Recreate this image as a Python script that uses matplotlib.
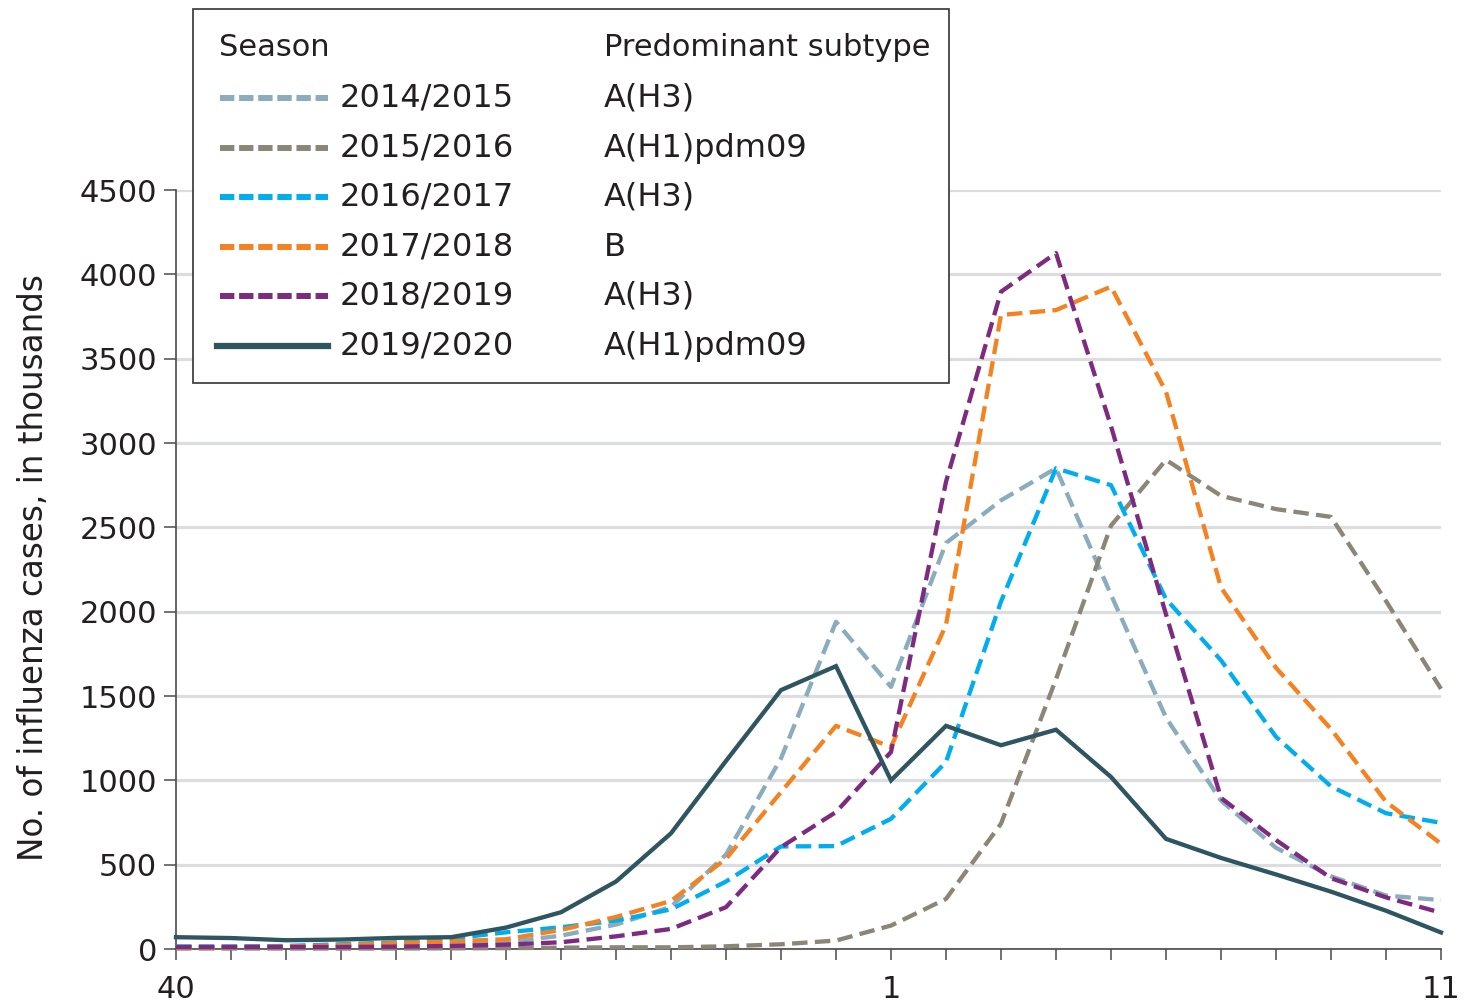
import matplotlib
matplotlib.use("Agg")
import matplotlib.pyplot as plt
from matplotlib.lines import Line2D
from matplotlib.patches import Rectangle

# ---- data (thousands of influenza cases per week, week 40 -> week 11) ----
weeks = list(range(40, 53)) + list(range(1, 12))
tick_labels_shown = {40: "40", 1: "1", 11: "11"}

seasons = ["2014/2015", "2015/2016", "2016/2017", "2017/2018", "2018/2019", "2019/2020"]
subtypes = ["A(H3)", "A(H1)pdm09", "A(H3)", "B", "A(H3)", "A(H1)pdm09"]

s2014 = [8, 8, 10, 12, 15, 28, 40, 79, 145, 250, 560, 1130, 1940, 1554, 2407, 2660, 2850, 2100, 1372, 880, 600, 431, 317, 290]
s2015 = [3, 3, 3, 3, 3, 4, 5, 8, 10, 10, 16, 28, 50, 139, 297, 743, 1600, 2510, 2900, 2687, 2608, 2562, 2063, 1542]
s2016 = [15, 15, 18, 28, 40, 62, 99, 129, 168, 235, 400, 608, 610, 772, 1109, 2060, 2850, 2750, 2075, 1712, 1258, 964, 805, 748]
s2017 = [10, 12, 15, 22, 35, 45, 58, 113, 190, 285, 535, 930, 1323, 1198, 1921, 3759, 3788, 3927, 3304, 2143, 1667, 1304, 873, 624]
s2018 = [12, 12, 12, 12, 14, 18, 26, 40, 75, 119, 248, 604, 812, 1168, 2770, 3897, 4126, 3100, 1984, 896, 646, 420, 306, 215]
s2019 = [70, 65, 52, 56, 66, 70, 127, 218, 400, 686, 1115, 1535, 1677, 1000, 1323, 1208, 1300, 1020, 653, 540, 442, 340, 227, 98]

series = [s2014, s2015, s2016, s2017, s2018, s2019]
colors = ["#8aacbd", "#8c8678", "#00aeef", "#f58220", "#7d2a80", "#2e5560"]
dashed = [True, True, True, True, True, False]

# ---- figure ----
W, H = 1465, 1005
fig = plt.figure(figsize=(W / 100, H / 100), dpi=100)
TXT = "#231f20"

def fx(px):
    return px / W

def fy(py):
    return 1 - py / H

ax = fig.add_axes([fx(176), fy(949), (1441 - 176) / W, (949 - 190) / H])
x = list(range(len(weeks)))

for vals, col, d in zip(series, colors, dashed):
    if d:
        ax.plot(x, vals, color=col, lw=3.1, linestyle=(0, (3.6, 1.7)),
                dash_capstyle="butt", clip_on=False, zorder=3)
    else:
        ax.plot(x, vals, color=col, lw=3.1, solid_joinstyle="miter",
                clip_on=False, zorder=4)

ax.set_xlim(0, len(weeks) - 1)
ax.set_ylim(0, 4500)
ax.set_yticks(range(0, 4501, 500))
ax.set_yticklabels([str(v) for v in range(0, 4501, 500)], fontsize=22, color=TXT)
ax.set_xticks(x)
ax.set_xticklabels([tick_labels_shown.get(w, "") for w in weeks], fontsize=22, color=TXT)

ax.grid(axis="y", color="#dcdddf", lw=2.3)
ax.set_axisbelow(True)
for s in ["top", "right"]:
    ax.spines[s].set_visible(False)
for s in ["left", "bottom"]:
    ax.spines[s].set_color("#4a4a4a")
    ax.spines[s].set_linewidth(1.2)
ax.tick_params(axis="y", direction="out", length=8.5, width=1.1, color="#4a4a4a", pad=5)
ax.tick_params(axis="x", direction="out", length=8, width=1.1, color="#4a4a4a", pad=11)
ax.set_ylabel("No. of influenza cases, in thousands", fontsize=23.5, color=TXT)
ax.yaxis.set_label_coords((50 - 176) / 1265, (949 - 568) / 759)

# ---- legend table ----
fig.add_artist(Rectangle((fx(193), fy(383)), (949 - 193) / W, (383 - 9) / H,
                         transform=fig.transFigure, fill=True, facecolor="white",
                         edgecolor="#333333", lw=1.2, zorder=10))
fs_leg = 23
fig.text(fx(219), fy(47), "Season", fontsize=22, color=TXT, va="center", ha="left", zorder=11)
fig.text(fx(604), fy(47), "Predominant subtype", fontsize=22, color=TXT, va="center", ha="left", zorder=11)
row_y = [98, 148, 197, 247, 296, 346]
for lab, sub, col, d, ry in zip(seasons, subtypes, colors, dashed, row_y):
    if d:
        ln = Line2D([fx(220), fx(328)], [fy(ry), fy(ry)], transform=fig.transFigure,
                    color=col, lw=4.3, linestyle=(0, (2.4, 0.8)), dash_capstyle="butt", zorder=11)
    else:
        ln = Line2D([fx(217), fx(328)], [fy(ry), fy(ry)], transform=fig.transFigure,
                    color=col, lw=4.5, zorder=11)
    fig.add_artist(ln)
    fig.text(fx(340), fy(ry), lab, fontsize=fs_leg, color=TXT, va="center", ha="left", zorder=11)
    fig.text(fx(604), fy(ry), sub, fontsize=fs_leg, color=TXT, va="center", ha="left", zorder=11)

fig.savefig("out.png", dpi=100)
